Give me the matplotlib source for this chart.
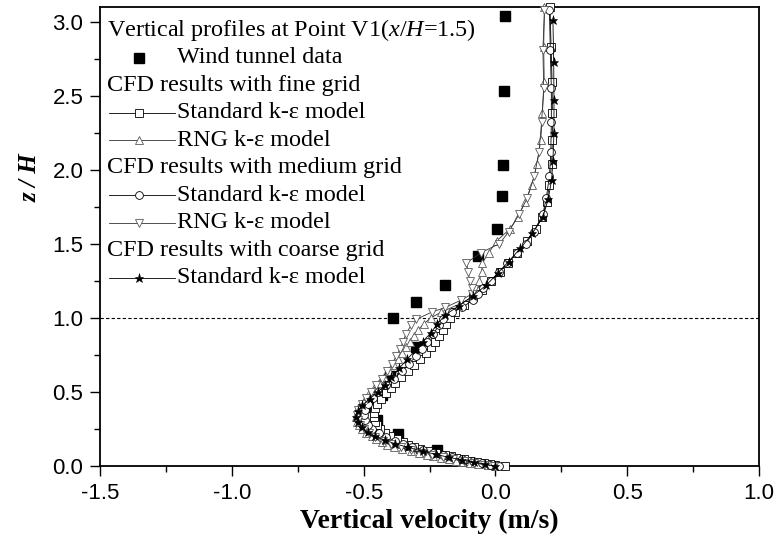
import matplotlib
matplotlib.use("Agg")
import matplotlib.pyplot as plt
from matplotlib.ticker import MultipleLocator, FormatStrFormatter

plt.rcParams['axes.unicode_minus'] = False
plt.rcParams['mathtext.fontset'] = 'custom'
plt.rcParams['mathtext.rm'] = 'Liberation Serif'
plt.rcParams['mathtext.it'] = 'Liberation Serif:italic'

# Wind tunnel measurements at V1
z_wt = [0.11, 0.215, 0.31, 0.40, 0.48, 0.61, 0.805, 1.0, 1.11, 1.22,
        1.42, 1.60, 1.82, 2.03, 2.53, 3.04]
u_wt = [-0.22, -0.37, -0.45, -0.48, -0.43, -0.40, -0.30, -0.39, -0.30, -0.19,
        -0.065, 0.005, 0.025, 0.03, 0.034, 0.038]

# CFD, fine grid
z_fine = [0.0, 0.007, 0.015, 0.022, 0.03, 0.037, 0.045, 0.055, 0.065, 0.075,
          0.088, 0.10, 0.115, 0.13, 0.145, 0.16, 0.18, 0.20, 0.225, 0.25,
          0.275, 0.30, 0.33, 0.36, 0.39, 0.42, 0.455, 0.49, 0.525, 0.56,
          0.60, 0.64, 0.68, 0.72, 0.76, 0.80, 0.84, 0.88, 0.92, 0.96,
          1.00, 1.04, 1.09, 1.14, 1.19, 1.25, 1.31, 1.37, 1.44, 1.52,
          1.60, 1.68, 1.78, 1.90, 2.04, 2.20, 2.38, 2.59, 2.83, 3.10]
u_fine_std = [0.035, 0.0, -0.02, -0.045, -0.07, -0.095, -0.12, -0.15, -0.17, -0.19,
              -0.225, -0.255, -0.285, -0.31, -0.33, -0.35, -0.375, -0.40, -0.42, -0.437,
              -0.448, -0.455, -0.46, -0.46, -0.457, -0.448, -0.435, -0.417, -0.398, -0.38,
              -0.357, -0.333, -0.308, -0.285, -0.264, -0.245, -0.228, -0.213, -0.199, -0.186,
              -0.174, -0.152, -0.118, -0.084, -0.052, -0.018, 0.016, 0.047, 0.083, 0.12,
              0.152, 0.178, 0.194, 0.205, 0.213, 0.216, 0.216, 0.215, 0.211, 0.207]
u_fine_rng = [0.0, -0.03, -0.065, -0.095, -0.125, -0.15, -0.175, -0.205, -0.235, -0.26,
              -0.29, -0.32, -0.355, -0.385, -0.41, -0.43, -0.452, -0.47, -0.49, -0.505,
              -0.518, -0.526, -0.53, -0.527, -0.52, -0.51, -0.495, -0.478, -0.46, -0.443,
              -0.423, -0.404, -0.386, -0.37, -0.355, -0.34, -0.325, -0.31, -0.293, -0.272,
              -0.245, -0.205, -0.14, -0.085, -0.068, -0.062, -0.052, -0.05, -0.025, 0.005,
              0.055, 0.085, 0.112, 0.138, 0.158, 0.172, 0.178, 0.185, 0.183, 0.186]

# CFD, medium grid
z_medium = [0.0, 0.01, 0.02, 0.032, 0.045, 0.06, 0.075, 0.09, 0.11, 0.13,
            0.15, 0.17, 0.195, 0.22, 0.25, 0.28, 0.31, 0.345, 0.38, 0.42,
            0.46, 0.50, 0.545, 0.59, 0.64, 0.69, 0.74, 0.79, 0.84, 0.89,
            0.95, 0.99, 1.04, 1.07, 1.12, 1.16, 1.20, 1.25, 1.31, 1.37,
            1.44, 1.50, 1.58, 1.70, 1.81, 1.96, 2.12, 2.32, 2.55, 2.81, 3.08]
u_medium_std = [0.015, -0.02, -0.05, -0.085, -0.125, -0.165, -0.2, -0.235, -0.275, -0.315,
                -0.35, -0.38, -0.415, -0.443, -0.468, -0.485, -0.495, -0.498, -0.495, -0.484,
                -0.466, -0.445, -0.415, -0.385, -0.355, -0.328, -0.302, -0.28, -0.258, -0.237,
                -0.214, -0.2, -0.163, -0.125, -0.087, -0.068, -0.048, -0.018, 0.015, 0.045,
                0.083, 0.115, 0.145, 0.18, 0.193, 0.205, 0.21, 0.212, 0.212, 0.208, 0.205]
u_medium_rng = [-0.005, -0.045, -0.08, -0.12, -0.16, -0.2, -0.24, -0.275, -0.32, -0.36,
                -0.395, -0.425, -0.455, -0.48, -0.5, -0.515, -0.523, -0.525, -0.52, -0.508,
                -0.492, -0.473, -0.452, -0.432, -0.41, -0.392, -0.377, -0.362, -0.35, -0.34,
                -0.32, -0.30, -0.24, -0.19, -0.13, -0.09, -0.09, -0.098, -0.103, -0.11,
                -0.055, 0.015, 0.05, 0.09, 0.121, 0.148, 0.165, 0.175, 0.183, 0.18, 0.186]

# CFD, coarse grid
z_coarse = [0.0, 0.012, 0.025, 0.04, 0.058, 0.078, 0.1, 0.125, 0.15, 0.175,
            0.2, 0.23, 0.26, 0.295, 0.33, 0.37, 0.41, 0.455, 0.5, 0.55,
            0.6, 0.66, 0.72, 0.78, 0.84, 0.9, 0.96, 1.02, 1.08, 1.15,
            1.22, 1.30, 1.38, 1.47, 1.57, 1.68, 1.80, 1.93, 2.06, 2.25,
            2.47, 2.73, 3.01]
u_coarse_std = [0.0, -0.04, -0.08, -0.125, -0.175, -0.225, -0.275, -0.33, -0.38, -0.42,
                -0.455, -0.485, -0.507, -0.522, -0.528, -0.522, -0.505, -0.477, -0.445, -0.418,
                -0.395, -0.365, -0.335, -0.305, -0.275, -0.245, -0.22, -0.19, -0.14, -0.085,
                -0.035, 0.008, 0.05, 0.095, 0.14, 0.18, 0.2, 0.213, 0.218, 0.222,
                0.222, 0.221, 0.218]

header = r'Vertical profiles at Point V1($\mathit{x}$/$\mathit{H}$=1.5)'

styles = {
    'wt': dict(marker='s', ms=7.5, mfc='black', mec='black', ls='none'),
    'fine_std': dict(marker='s', ms=5.2, mfc='white', mec='black', mew=0.6,
                     color='black', lw=0.6),
    'fine_rng': dict(marker='^', ms=6.0, mfc='white', mec='0.35', mew=0.6,
                     color='0.2', lw=0.6),
    'medium_std': dict(marker='o', ms=5.6, mfc='white', mec='black', mew=0.6,
                       color='black', lw=0.6),
    'medium_rng': dict(marker='v', ms=6.0, mfc='white', mec='0.35', mew=0.6,
                       color='0.2', lw=0.6),
    'coarse_std': dict(marker='*', ms=6.5, mfc='black', mec='black', mew=0.4,
                       color='black', lw=0.6),
}

fig = plt.figure(figsize=(7.79, 5.41), dpi=100)
ax = fig.add_axes([0.1284, 0.1386, 0.846, 0.849])

ax.axhline(1.0, color='black', lw=0.8, ls=(0, (3, 2)), zorder=1)
ax.plot(u_wt, z_wt, zorder=2, **styles['wt'])
ax.plot(u_fine_std, z_fine, zorder=3, clip_on=False, **styles['fine_std'])
ax.plot(u_fine_rng, z_fine, zorder=3, clip_on=False, **styles['fine_rng'])
ax.plot(u_medium_std, z_medium, zorder=3, clip_on=False, **styles['medium_std'])
ax.plot(u_medium_rng, z_medium, zorder=3, clip_on=False, **styles['medium_rng'])
ax.plot(u_coarse_std, z_coarse, zorder=4, clip_on=False, **styles['coarse_std'])

ax.set_xlim(-1.5, 1.0)
ax.set_ylim(0.0, 3.1)
ax.xaxis.set_major_locator(MultipleLocator(0.5))
ax.xaxis.set_minor_locator(MultipleLocator(0.25))
ax.yaxis.set_major_locator(MultipleLocator(0.5))
ax.yaxis.set_minor_locator(MultipleLocator(0.25))
ax.xaxis.set_major_formatter(FormatStrFormatter('%.1f'))
ax.yaxis.set_major_formatter(FormatStrFormatter('%.1f'))
ax.tick_params(which='both', direction='out', top=False, right=False, width=1.0)
ax.tick_params(which='major', length=7, labelsize=16, pad=5)
ax.tick_params(which='minor', length=4)
for lab in ax.get_xticklabels() + ax.get_yticklabels():
    lab.set_family('Liberation Sans')
for sp in ax.spines.values():
    sp.set_linewidth(1.3)

ax.set_xlabel('Vertical velocity (m/s)', family='Liberation Serif',
              fontweight='bold', fontsize=20)
ax.xaxis.set_label_coords(0.5, -0.094)
ax.set_ylabel('z / H', family='Liberation Serif', fontweight='bold',
              fontstyle='italic', fontsize=18)
ax.yaxis.set_label_coords(-0.088, 0.627)

# hand-built legend: group headers without a handle, entries with a short line
rows = [
    (header, None),
    ('Wind tunnel data', 'wt'),
    ('CFD results with fine grid', None),
    ('Standard k-\u03b5 model', 'fine_std'),
    ('RNG k-\u03b5 model', 'fine_rng'),
    ('CFD results with medium grid', None),
    ('Standard k-\u03b5 model', 'medium_std'),
    ('RNG k-\u03b5 model', 'medium_rng'),
    ('CFD results with coarse grid', None),
    ('Standard k-\u03b5 model', 'coarse_std'),
]
y0, dy = 0.949, 0.0599
for i, (label, key) in enumerate(rows):
    y = y0 - i * dy
    if key is None:
        ax.text(0.011, y, label, transform=ax.transAxes, va='center', ha='left',
                family='Liberation Serif', fontsize=17.4)
        continue
    st = dict(styles[key])
    if key != 'wt':
        ax.plot([0.014, 0.114], [y, y], transform=ax.transAxes, color=st['color'],
                lw=st['lw'], zorder=5)
    st.pop('ls', None)
    st.pop('lw', None)
    st.pop('color', None)
    ax.plot([0.059], [y], transform=ax.transAxes, ls='none', zorder=6, **st)
    ax.text(0.117, y, label, transform=ax.transAxes, va='center', ha='left',
            family='Liberation Serif', fontsize=17.4)

fig.savefig('out.png', dpi=100)
